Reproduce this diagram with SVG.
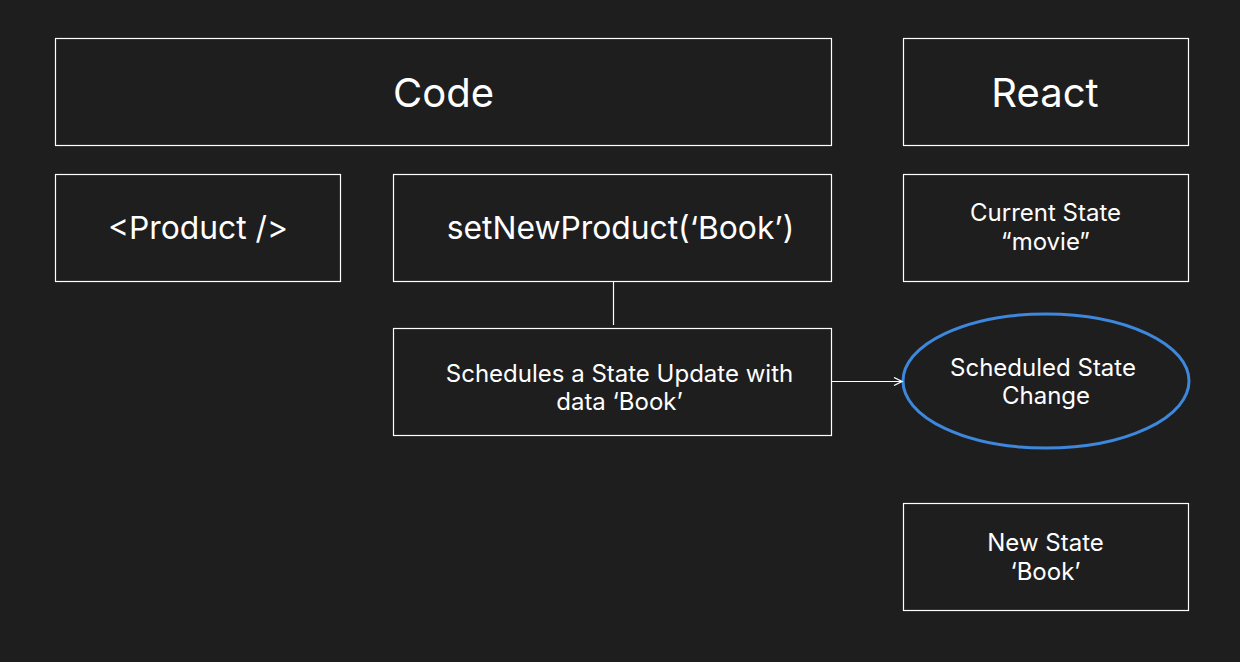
<svg xmlns="http://www.w3.org/2000/svg" width="1240" height="662" viewBox="0 0 1240 662">
<defs>
<style>
.box{fill:#1e1e1e;stroke:#ffffff;stroke-width:1.2}
.t{font-family:Inter,"Noto Sans",sans-serif;fill:#ffffff;text-anchor:middle}
.big{font-size:40px}
.mid{font-size:31.8px}
.sm{font-size:24px}
.conn{stroke:#ffffff;stroke-width:1.2;fill:none}
</style>
<marker id="arr" viewBox="0 0 10 10" refX="9" refY="5" markerWidth="10" markerHeight="10" markerUnits="userSpaceOnUse" orient="auto">
<path d="M1,1 L9,5 L1,9" fill="none" stroke="#ffffff" stroke-width="1.3"/>
</marker>
</defs>
<rect width="1240" height="662" fill="#1e1e1e"/>
<g id="code"><rect class="box" x="55.5" y="38.5" width="776" height="107"/><text class="t big" x="443.5" y="107">Code</text></g>
<g id="react"><rect class="box" x="903.5" y="38.5" width="285" height="107"/><text class="t big" x="1045" y="107">React</text></g>
<g id="product"><rect class="box" x="55.5" y="174.5" width="285" height="107"/><text class="t mid" x="198" y="239">&lt;Product /&gt;</text></g>
<g id="setNewProduct"><rect class="box" x="393.5" y="174.5" width="438" height="107"/><text class="t mid" x="620.5" y="239">setNewProduct(‘Book’)</text></g>
<g id="currentState"><rect class="box" x="903.5" y="174.5" width="285" height="107"/><text class="t sm" x="1045.5" y="221">Current State</text><text class="t sm" x="1045.5" y="250">“movie”</text></g>
<g id="schedules"><rect class="box" x="393.5" y="328.5" width="438" height="107"/><text class="t sm" x="619.5" y="382">Schedules a State Update with</text><text class="t sm" x="619.5" y="410">data ‘Book’</text></g>
<g id="scheduledChange"><ellipse cx="1046" cy="381" rx="143" ry="67" fill="#1e1e1e" stroke="#3d87dd" stroke-width="3"/><text class="t sm" x="1043" y="376">Scheduled State</text><text class="t sm" x="1046" y="404">Change</text></g>
<g id="newState"><rect class="box" x="903.5" y="503.5" width="285" height="107"/><text class="t sm" x="1045.5" y="551">New State</text><text class="t sm" x="1045.5" y="580">‘Book’</text></g>
<g id="connectors">
<line class="conn" x1="613.5" y1="282" x2="613.5" y2="325"/>
<line class="conn" x1="832" y1="381.5" x2="902" y2="381.5" marker-end="url(#arr)"/>
</g>
</svg>
